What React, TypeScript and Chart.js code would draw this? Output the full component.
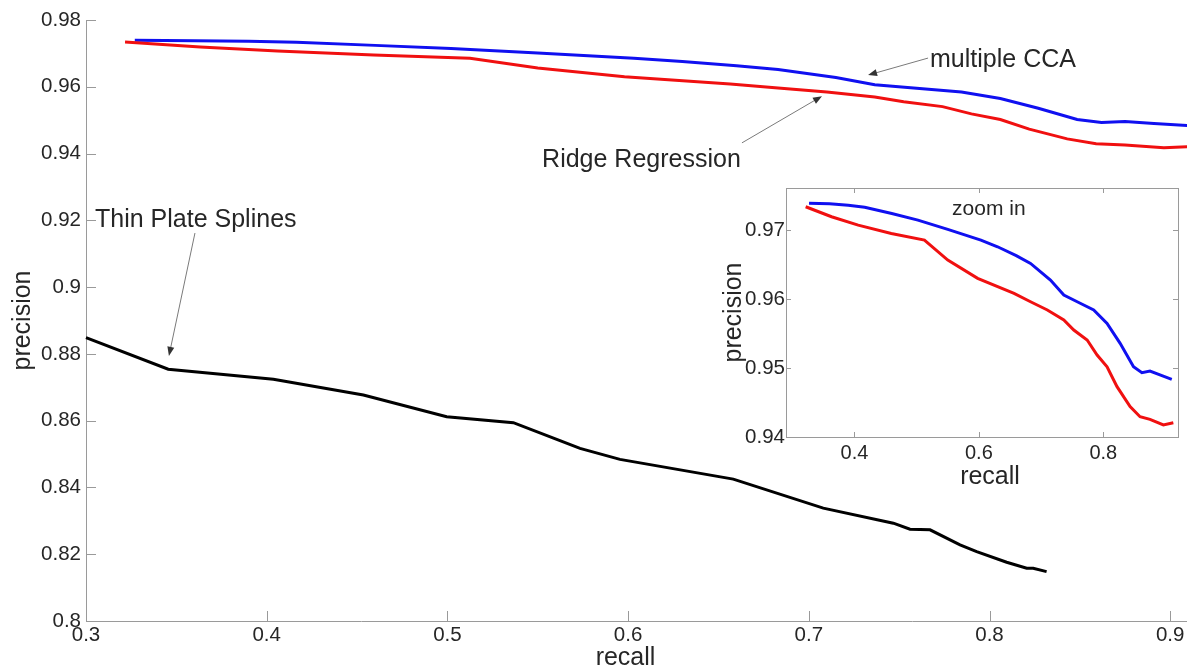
import React, { useEffect, useRef } from "react";
import { Chart, registerables } from "chart.js";

Chart.register(...registerables);

// ---------------- data ----------------
const ccaRecall = [0.327, 0.36, 0.39, 0.4165, 0.46, 0.502, 0.55, 0.6032, 0.63, 0.66, 0.683, 0.715, 0.7365, 0.758, 0.7845, 0.806, 0.827, 0.8485, 0.862, 0.875, 0.891, 0.91];
const ccaPrecision = [0.9739, 0.9738, 0.9736, 0.9733, 0.9724, 0.97145, 0.9701, 0.96855, 0.96758, 0.9663, 0.96517, 0.96275, 0.96058, 0.95961, 0.95841, 0.95648, 0.95358, 0.95019, 0.94932, 0.94957, 0.949, 0.94836];

const ridgeRecall = [0.3216, 0.3632, 0.406, 0.4592, 0.5125, 0.55, 0.598, 0.6565, 0.683, 0.71, 0.7365, 0.7525, 0.774, 0.79, 0.806, 0.822, 0.843, 0.859, 0.875, 0.8965, 0.9125];
const ridgePrecision = [0.97338, 0.97193, 0.97072, 0.96951, 0.96855, 0.96565, 0.963, 0.96082, 0.95961, 0.95841, 0.95696, 0.95551, 0.95406, 0.95188, 0.95019, 0.9473, 0.9444, 0.94294, 0.94256, 0.94174, 0.94207];

const tpsRecall = [0.3, 0.3455, 0.4037, 0.4535, 0.4996, 0.5365, 0.5623, 0.5734, 0.5955, 0.6582, 0.708, 0.7468, 0.756, 0.7671, 0.7837, 0.7929, 0.8095, 0.8206, 0.8242, 0.8316];
const tpsPrecision = [0.8849, 0.8754, 0.8724, 0.8677, 0.8612, 0.8594, 0.854, 0.8517, 0.8484, 0.8425, 0.8338, 0.8293, 0.8275, 0.8273, 0.8228, 0.8208, 0.8176, 0.8158, 0.8158, 0.8148];

const mainXTicks = [0.3, 0.4, 0.5, 0.6, 0.7, 0.8, 0.9];
const mainXTickLabels = ["0.3", "0.4", "0.5", "0.6", "0.7", "0.8", "0.9"];
const mainYTicks = [0.8, 0.82, 0.84, 0.86, 0.88, 0.9, 0.92, 0.94, 0.96, 0.98];
const mainYTickLabels = ["0.8", "0.82", "0.84", "0.86", "0.88", "0.9", "0.92", "0.94", "0.96", "0.98"];

const insetXTicks = [0.4, 0.6, 0.8];
const insetXTickLabels = ["0.4", "0.6", "0.8"];
const insetYTicks = [0.94, 0.95, 0.96, 0.97];
const insetYTickLabels = ["0.94", "0.95", "0.96", "0.97"];

// annotation labels with arrow (anchors in data units)
const annLabels = ["Thin Plate Splines", "Ridge Regression", "multiple CCA"];
const annTextX = [0.305, 0.5524, 0.7671];
const annTextY = [0.918, 0.936, 0.9659];
const annFromX = [0.3603, 0.663, 0.766];
const annFromY = [0.9162, 0.9432, 0.9686];
const annToX = [0.3459, 0.7073, 0.7328];
const annToY = [0.8794, 0.9572, 0.9635];

const FONT = "'Liberation Sans', Arial, Helvetica, sans-serif";
const AXIS_COLOR = "#9a9a9a";
const TEXT_COLOR = "#262626";
const BLUE = "#1010f0";
const RED = "#f01010";

const pts = (xs: number[], ys: number[]) => xs.map((x, i) => ({ x, y: ys[i] }));

function drawArrow(ctx: CanvasRenderingContext2D, x1: number, y1: number, x2: number, y2: number) {
  const ang = Math.atan2(y2 - y1, x2 - x1);
  const hl = 9;
  const hw = 3.5;
  ctx.save();
  ctx.strokeStyle = "#7a7a7a";
  ctx.lineWidth = 1;
  ctx.beginPath();
  ctx.moveTo(x1, y1);
  ctx.lineTo(x2 - Math.cos(ang) * hl * 0.6, y2 - Math.sin(ang) * hl * 0.6);
  ctx.stroke();
  ctx.fillStyle = "#333";
  ctx.beginPath();
  ctx.moveTo(x2, y2);
  ctx.lineTo(x2 - Math.cos(ang) * hl - Math.sin(ang) * hw, y2 - Math.sin(ang) * hl + Math.cos(ang) * hw);
  ctx.lineTo(x2 - Math.cos(ang) * hl + Math.sin(ang) * hw, y2 - Math.sin(ang) * hl - Math.cos(ang) * hw);
  ctx.closePath();
  ctx.fill();
  ctx.restore();
}

function drawInwardTicks(chart: any, len: number, box: boolean) {
  const { ctx, chartArea } = chart;
  const xs = chart.scales.x;
  const ys = chart.scales.y;
  ctx.save();
  ctx.strokeStyle = AXIS_COLOR;
  ctx.lineWidth = 1;
  ctx.beginPath();
  xs.ticks.forEach((t: any) => {
    const px = Math.round(xs.getPixelForValue(t.value)) + 0.5;
    ctx.moveTo(px, chartArea.bottom);
    ctx.lineTo(px, chartArea.bottom - len);
    if (box) {
      ctx.moveTo(px, chartArea.top);
      ctx.lineTo(px, chartArea.top + len);
    }
  });
  ys.ticks.forEach((t: any) => {
    const py = Math.round(ys.getPixelForValue(t.value)) + 0.5;
    ctx.moveTo(chartArea.left, py);
    ctx.lineTo(chartArea.left + len, py);
    if (box) {
      ctx.moveTo(chartArea.right, py);
      ctx.lineTo(chartArea.right - len, py);
    }
  });
  ctx.stroke();
  ctx.restore();
}

function MainChart() {
  const ref = useRef<HTMLCanvasElement | null>(null);
  useEffect(() => {
    if (!ref.current) return;
    const mainPlugin = {
      id: "mainDecor",
      afterDraw(chart: any) {
        const { ctx, chartArea } = chart;
        const xs = chart.scales.x;
        const ys = chart.scales.y;
        drawInwardTicks(chart, 10, false);
        ctx.save();
        ctx.fillStyle = TEXT_COLOR;
        ctx.font = `25px ${FONT}`;
        ctx.textBaseline = "alphabetic";
        ctx.textAlign = "left";
        annLabels.forEach((lab, i) => {
          ctx.fillText(lab, xs.getPixelForValue(annTextX[i]), ys.getPixelForValue(annTextY[i]));
        });
        annLabels.forEach((_, i) => {
          drawArrow(ctx, xs.getPixelForValue(annFromX[i]), ys.getPixelForValue(annFromY[i]), xs.getPixelForValue(annToX[i]), ys.getPixelForValue(annToY[i]));
        });
        // axis titles
        ctx.textAlign = "center";
        ctx.textBaseline = "middle";
        ctx.fillText("recall", (chartArea.left + chartArea.right) / 2 - 11, chartArea.bottom + 37);
        ctx.translate(23, (chartArea.top + chartArea.bottom) / 2);
        ctx.rotate(-Math.PI / 2);
        ctx.fillText("precision", 0, 0);
        ctx.restore();
      },
    };
    const chart = new Chart(ref.current, {
      type: "line",
      data: {
        datasets: [
          { label: "Thin Plate Splines", data: pts(tpsRecall, tpsPrecision), borderColor: "#000", borderWidth: 3, pointRadius: 0, tension: 0 },
          { label: "Ridge Regression", data: pts(ridgeRecall, ridgePrecision), borderColor: RED, borderWidth: 3, pointRadius: 0, tension: 0 },
          { label: "multiple CCA", data: pts(ccaRecall, ccaPrecision), borderColor: BLUE, borderWidth: 3, pointRadius: 0, tension: 0 },
        ],
      },
      options: {
        animation: false,
        responsive: false,
        maintainAspectRatio: false,
        clip: false as any,
        layout: { padding: { top: 20, right: 0, left: 0, bottom: 0 } },
        plugins: { legend: { display: false }, tooltip: { enabled: false }, title: { display: false } },
        scales: {
          x: {
            type: "linear",
            min: 0.3,
            max: 0.3 + (1187 - 86) / 1807,
            afterBuildTicks: (s: any) => { s.ticks = mainXTicks.map((v) => ({ value: v })); },
            afterFit: (s: any) => { s.height = 48; },
            grid: { display: false, drawTicks: false },
            border: { display: true, color: AXIS_COLOR, width: 1 },
            ticks: {
              padding: 2,
              maxRotation: 0,
              autoSkip: false,
              color: TEXT_COLOR,
              font: { family: FONT, size: 20.5 },
              callback: (_v: any, i: number) => mainXTickLabels[i],
            },
          },
          y: {
            type: "linear",
            min: 0.8,
            max: 0.98,
            afterBuildTicks: (s: any) => { s.ticks = mainYTicks.map((v) => ({ value: v })); },
            afterFit: (s: any) => { s.width = 86; },
            grid: { display: false, drawTicks: false },
            border: { display: true, color: AXIS_COLOR, width: 1 },
            ticks: {
              padding: 5,
              autoSkip: false,
              color: TEXT_COLOR,
              font: { family: FONT, size: 20.5 },
              callback: (_v: any, i: number) => mainYTickLabels[i],
            },
          },
        },
      },
      plugins: [mainPlugin],
    });
    return () => chart.destroy();
  }, []);
  return (
    <div style={{ position: "absolute", left: 0, top: 0, width: 1187, height: 669 }}>
      <canvas ref={ref} width={1187} height={669} style={{ width: 1187, height: 669, display: "block" }} />
    </div>
  );
}

function InsetChart() {
  const ref = useRef<HTMLCanvasElement | null>(null);
  useEffect(() => {
    if (!ref.current) return;
    const insetPlugin = {
      id: "insetDecor",
      beforeDraw(chart: any) {
        const { ctx, chartArea } = chart;
        ctx.save();
        ctx.fillStyle = "#ffffff";
        ctx.fillRect(chartArea.left, chartArea.top, chartArea.right - chartArea.left, chartArea.bottom - chartArea.top);
        ctx.restore();
      },
      afterDraw(chart: any) {
        const { ctx, chartArea } = chart;
        const xs = chart.scales.x;
        const ys = chart.scales.y;
        ctx.save();
        ctx.strokeStyle = AXIS_COLOR;
        ctx.lineWidth = 1;
        ctx.strokeRect(Math.round(chartArea.left) + 0.5, Math.round(chartArea.top) + 0.5, Math.round(chartArea.right - chartArea.left), Math.round(chartArea.bottom - chartArea.top));
        ctx.restore();
        drawInwardTicks(chart, 5, true);
        ctx.save();
        ctx.fillStyle = TEXT_COLOR;
        ctx.textAlign = "center";
        ctx.textBaseline = "middle";
        ctx.font = `21px ${FONT}`;
        ctx.fillText("zoom in", xs.getPixelForValue(0.616), ys.getPixelForValue(0.973));
        ctx.font = `25px ${FONT}`;
        ctx.fillText("recall", (chartArea.left + chartArea.right) / 2 + 8, chartArea.bottom + 40);
        ctx.translate(34, (chartArea.top + chartArea.bottom) / 2);
        ctx.rotate(-Math.PI / 2);
        ctx.fillText("precision", 0, 0);
        ctx.restore();
      },
    };
    const chart = new Chart(ref.current, {
      type: "line",
      data: {
        datasets: [
          { label: "Ridge Regression", data: pts(ridgeRecall, ridgePrecision), borderColor: RED, borderWidth: 3, pointRadius: 0, tension: 0 },
          { label: "multiple CCA", data: pts(ccaRecall, ccaPrecision), borderColor: BLUE, borderWidth: 3, pointRadius: 0, tension: 0 },
        ],
      },
      options: {
        animation: false,
        responsive: false,
        maintainAspectRatio: false,
        layout: { padding: { top: 18, right: 9, left: 0, bottom: 0 } },
        plugins: { legend: { display: false }, tooltip: { enabled: false }, title: { display: false } },
        scales: {
          x: {
            type: "linear",
            min: 0.29,
            max: 0.92,
            afterBuildTicks: (s: any) => { s.ticks = insetXTicks.map((v) => ({ value: v })); },
            afterFit: (s: any) => { s.height = 63; },
            grid: { display: false, drawTicks: false },
            border: { display: false },
            ticks: {
              padding: 4,
              maxRotation: 0,
              autoSkip: false,
              color: TEXT_COLOR,
              font: { family: FONT, size: 20 },
              callback: (_v: any, i: number) => insetXTickLabels[i],
            },
          },
          y: {
            type: "linear",
            min: 0.94,
            max: 0.9761,
            afterBuildTicks: (s: any) => { s.ticks = insetYTicks.map((v) => ({ value: v })); },
            afterFit: (s: any) => { s.width = 86; },
            grid: { display: false, drawTicks: false },
            border: { display: false },
            ticks: {
              padding: 1,
              autoSkip: false,
              color: TEXT_COLOR,
              font: { family: FONT, size: 20.5 },
              callback: (_v: any, i: number) => insetYTickLabels[i],
            },
          },
        },
      },
      plugins: [insetPlugin],
    });
    return () => chart.destroy();
  }, []);
  return (
    <div style={{ position: "absolute", left: 700, top: 170, width: 487, height: 330 }}>
      <canvas ref={ref} width={487} height={330} style={{ width: 487, height: 330, display: "block" }} />
    </div>
  );
}

export default function App() {
  return (
    <div style={{ position: "absolute", left: 0, top: 0, width: 1187, height: 669, background: "#ffffff", overflow: "hidden" }}>
      <MainChart />
      <InsetChart />
    </div>
  );
}
